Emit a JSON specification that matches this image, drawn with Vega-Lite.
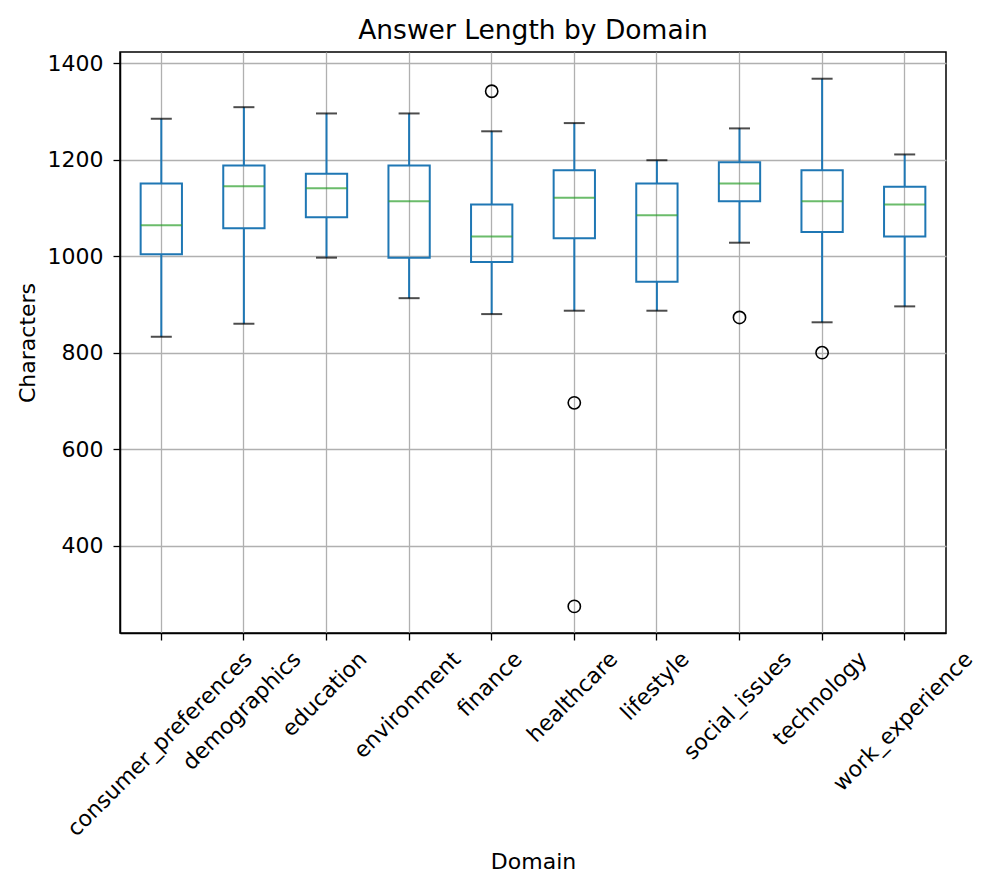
{
  "$schema": "https://vega.github.io/schema/vega-lite/v6.json",
  "width": 826,
  "height": 581,
  "autosize": {"type": "none"},
  "padding": {"left": 120, "top": 52, "right": 50, "bottom": 260},
  "background": "white",
  "title": {
    "text": "Answer Length by Domain",
    "font": "DejaVu Sans",
    "fontSize": 26.5,
    "fontWeight": "normal",
    "color": "black",
    "anchor": "middle",
    "frame": "group",
    "baseline": "alphabetic",
    "offset": 15,
    "dy": 28
  },
  "config": {
    "view": {"stroke": "black", "strokeWidth": 1.5},
    "axis": {
      "labelFont": "DejaVu Sans",
      "titleFont": "DejaVu Sans",
      "labelFontSize": 22,
      "titleFontSize": 22,
      "labelColor": "black",
      "titleColor": "black",
      "titleFontWeight": "normal",
      "domainColor": "black",
      "domainWidth": 1.5,
      "tickColor": "black",
      "tickWidth": 1.3,
      "tickSize": 7,
      "gridColor": "#b0b0b0",
      "gridWidth": 1.3,
      "grid": true,
      "labelLimit": 0
    }
  },
  "datasets": {
    "stats": [
      {"domain": "consumer_preferences", "lo": 833, "q1": 1004, "med": 1064, "q3": 1151, "hi": 1285},
      {"domain": "demographics", "lo": 860, "q1": 1058, "med": 1145, "q3": 1188, "hi": 1309},
      {"domain": "education", "lo": 997, "q1": 1081, "med": 1141, "q3": 1171, "hi": 1296},
      {"domain": "environment", "lo": 913, "q1": 997, "med": 1114, "q3": 1188, "hi": 1296},
      {"domain": "finance", "lo": 880, "q1": 988, "med": 1041, "q3": 1107, "hi": 1259},
      {"domain": "healthcare", "lo": 887, "q1": 1037, "med": 1121, "q3": 1178, "hi": 1276},
      {"domain": "lifestyle", "lo": 887, "q1": 947, "med": 1085, "q3": 1151, "hi": 1199},
      {"domain": "social_issues", "lo": 1028, "q1": 1114, "med": 1151, "q3": 1195, "hi": 1265},
      {"domain": "technology", "lo": 863, "q1": 1050, "med": 1114, "q3": 1178, "hi": 1368},
      {"domain": "work_experience", "lo": 896, "q1": 1041, "med": 1107, "q3": 1144, "hi": 1211}
    ],
    "outliers": [
      {"domain": "finance", "value": 1342},
      {"domain": "healthcare", "value": 696},
      {"domain": "healthcare", "value": 274},
      {"domain": "social_issues", "value": 873},
      {"domain": "technology", "value": 800}
    ]
  },
  "layer": [
    {
      "data": {"name": "stats"},
      "mark": {"type": "rule", "color": "#1f77b4", "strokeWidth": 2},
      "encoding": {
        "x": {
          "field": "domain",
          "type": "nominal",
          "scale": {"type": "band", "paddingInner": 0, "paddingOuter": 0},
          "axis": {
            "title": "Domain",
            "labelAngle": -45,
            "labelAlign": "right",
            "labelBaseline": "top",
            "labelPadding": 8,
            "labelOverlap": false,
            "labelBound": false,
            "labelFlush": false,
            "labelLimit": 0,
            "tickBand": "center",
            "titlePadding": 18,
            "labelOffset": {
              "condition": [
                {"test": "datum.value === 'consumer_preferences'", "value": 80},
                {"test": "datum.value === 'demographics'", "value": 46.3},
                {"test": "datum.value === 'education'", "value": 29.6},
                {"test": "datum.value === 'environment'", "value": 40.7},
                {"test": "datum.value === 'finance'", "value": 19.6},
                {"test": "datum.value === 'healthcare'", "value": 32.6},
                {"test": "datum.value === 'lifestyle'", "value": 21.5},
                {"test": "datum.value === 'social_issues'", "value": 41.1},
                {"test": "datum.value === 'technology'", "value": 34.2},
                {"test": "datum.value === 'work_experience'", "value": 57}
              ],
              "value": 0
            }
          }
        },
        "y": {
          "field": "lo",
          "type": "quantitative",
          "scale": {"domain": [218.8, 1423.4], "nice": false, "zero": false},
          "axis": {
            "title": "Characters",
            "format": "d",
            "values": [400, 600, 800, 1000, 1200, 1400],
            "labelPadding": 10,
            "titlePadding": 8
          }
        },
        "y2": {"field": "q1"}
      }
    },
    {
      "data": {"name": "stats"},
      "mark": {"type": "rule", "color": "#1f77b4", "strokeWidth": 2},
      "encoding": {
        "x": {"field": "domain", "type": "nominal"},
        "y": {"field": "q3", "type": "quantitative"},
        "y2": {"field": "hi"}
      }
    },
    {
      "data": {"name": "stats"},
      "mark": {"type": "bar", "fill": null, "fillOpacity": 0, "stroke": "#1f77b4", "strokeWidth": 2, "width": {"band": 0.5}},
      "encoding": {
        "x": {"field": "domain", "type": "nominal"},
        "y": {"field": "q1", "type": "quantitative"},
        "y2": {"field": "q3"}
      }
    },
    {
      "data": {"name": "stats"},
      "mark": {"type": "tick", "color": "#2ca02c", "thickness": 2, "size": 41, "orient": "horizontal"},
      "encoding": {
        "x": {"field": "domain", "type": "nominal"},
        "y": {"field": "med", "type": "quantitative"}
      }
    },
    {
      "data": {"name": "stats"},
      "mark": {"type": "tick", "color": "black", "thickness": 2, "size": 21, "orient": "horizontal"},
      "encoding": {
        "x": {"field": "domain", "type": "nominal"},
        "y": {"field": "lo", "type": "quantitative"}
      }
    },
    {
      "data": {"name": "stats"},
      "mark": {"type": "tick", "color": "black", "thickness": 2, "size": 21, "orient": "horizontal"},
      "encoding": {
        "x": {"field": "domain", "type": "nominal"},
        "y": {"field": "hi", "type": "quantitative"}
      }
    },
    {
      "data": {"name": "outliers"},
      "mark": {"type": "point", "shape": "circle", "filled": false, "stroke": "black", "strokeWidth": 1.6, "size": 150, "opacity": 1},
      "encoding": {
        "x": {"field": "domain", "type": "nominal"},
        "y": {"field": "value", "type": "quantitative"}
      }
    }
  ]
}
